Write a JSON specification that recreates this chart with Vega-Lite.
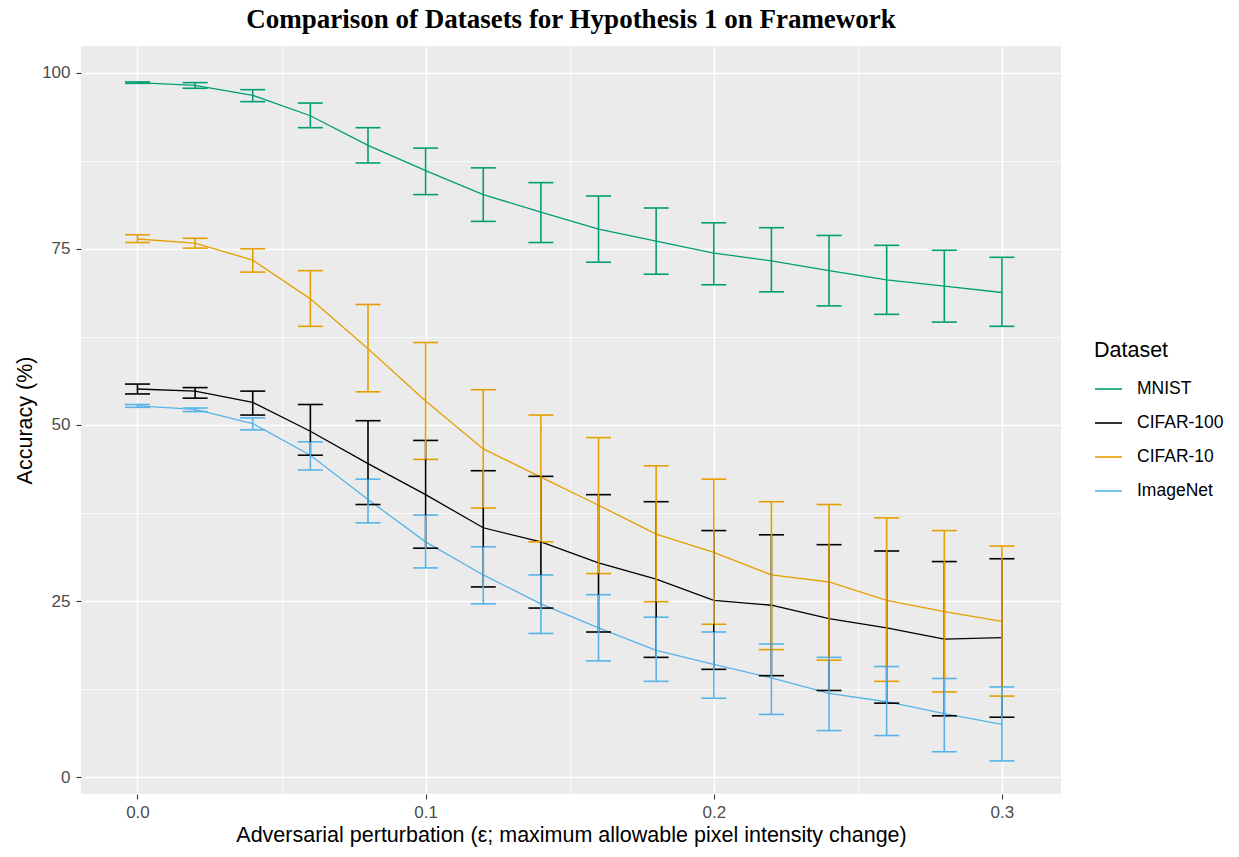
{
  "$schema": "https://vega.github.io/schema/vega-lite/v6.json",
  "width": 980,
  "height": 748,
  "autosize": {"type": "none"},
  "padding": {"left": 81, "top": 46, "right": 178, "bottom": 63},
  "background": "white",
  "title": {
    "text": "Comparison of Datasets for Hypothesis 1 on Framework",
    "font": "Liberation Serif",
    "fontSize": 27,
    "fontWeight": "bold",
    "color": "black",
    "anchor": "middle",
    "frame": "group",
    "offset": 12
  },
  "config": {
    "view": {"fill": "#EBEBEB", "stroke": null},
    "axis": {
      "domain": false,
      "gridColor": "white",
      "tickColor": "#333333",
      "tickSize": 5,
      "tickWidth": 1.1,
      "labelColor": "#4D4D4D",
      "labelFont": "Liberation Sans",
      "labelFontSize": 17,
      "labelPadding": 5,
      "titleFont": "Liberation Sans",
      "titleFontSize": 21.5,
      "titleFontWeight": "normal",
      "titleColor": "black"
    },
    "legend": {
      "titleFont": "Liberation Sans",
      "titleFontSize": 21.5,
      "titleFontWeight": "normal",
      "titleColor": "black",
      "labelFont": "Liberation Sans",
      "labelFontSize": 17.5,
      "labelColor": "black"
    }
  },
  "data": {
    "values": [
      {"dataset": "MNIST", "eps": 0.00, "acc": 98.6, "lo": 98.5, "hi": 98.7},
      {"dataset": "MNIST", "eps": 0.02, "acc": 98.2, "lo": 97.8, "hi": 98.6},
      {"dataset": "MNIST", "eps": 0.04, "acc": 96.8, "lo": 95.9, "hi": 97.6},
      {"dataset": "MNIST", "eps": 0.06, "acc": 93.9, "lo": 92.2, "hi": 95.7},
      {"dataset": "MNIST", "eps": 0.08, "acc": 89.7, "lo": 87.2, "hi": 92.2},
      {"dataset": "MNIST", "eps": 0.10, "acc": 86.1, "lo": 82.7, "hi": 89.3},
      {"dataset": "MNIST", "eps": 0.12, "acc": 82.7, "lo": 78.9, "hi": 86.5},
      {"dataset": "MNIST", "eps": 0.14, "acc": 80.2, "lo": 75.9, "hi": 84.4},
      {"dataset": "MNIST", "eps": 0.16, "acc": 77.8, "lo": 73.1, "hi": 82.5},
      {"dataset": "MNIST", "eps": 0.18, "acc": 76.1, "lo": 71.4, "hi": 80.8},
      {"dataset": "MNIST", "eps": 0.20, "acc": 74.4, "lo": 69.9, "hi": 78.7},
      {"dataset": "MNIST", "eps": 0.22, "acc": 73.3, "lo": 68.9, "hi": 78.0},
      {"dataset": "MNIST", "eps": 0.24, "acc": 71.9, "lo": 66.9, "hi": 76.9},
      {"dataset": "MNIST", "eps": 0.26, "acc": 70.6, "lo": 65.7, "hi": 75.5},
      {"dataset": "MNIST", "eps": 0.28, "acc": 69.7, "lo": 64.6, "hi": 74.8},
      {"dataset": "MNIST", "eps": 0.30, "acc": 68.8, "lo": 64.0, "hi": 73.8},
      {"dataset": "CIFAR-100", "eps": 0.00, "acc": 55.1, "lo": 54.4, "hi": 55.8},
      {"dataset": "CIFAR-100", "eps": 0.02, "acc": 54.8, "lo": 53.8, "hi": 55.3},
      {"dataset": "CIFAR-100", "eps": 0.04, "acc": 53.2, "lo": 51.4, "hi": 54.8},
      {"dataset": "CIFAR-100", "eps": 0.06, "acc": 49.1, "lo": 45.7, "hi": 52.9},
      {"dataset": "CIFAR-100", "eps": 0.08, "acc": 44.5, "lo": 38.7, "hi": 50.6},
      {"dataset": "CIFAR-100", "eps": 0.10, "acc": 40.1, "lo": 32.5, "hi": 47.8},
      {"dataset": "CIFAR-100", "eps": 0.12, "acc": 35.4, "lo": 27.0, "hi": 43.5},
      {"dataset": "CIFAR-100", "eps": 0.14, "acc": 33.4, "lo": 24.0, "hi": 42.7},
      {"dataset": "CIFAR-100", "eps": 0.16, "acc": 30.4, "lo": 20.6, "hi": 40.1},
      {"dataset": "CIFAR-100", "eps": 0.18, "acc": 28.1, "lo": 17.0, "hi": 39.1},
      {"dataset": "CIFAR-100", "eps": 0.20, "acc": 25.1, "lo": 15.3, "hi": 35.0},
      {"dataset": "CIFAR-100", "eps": 0.22, "acc": 24.4, "lo": 14.4, "hi": 34.4},
      {"dataset": "CIFAR-100", "eps": 0.24, "acc": 22.5, "lo": 12.3, "hi": 33.0},
      {"dataset": "CIFAR-100", "eps": 0.26, "acc": 21.2, "lo": 10.5, "hi": 32.1},
      {"dataset": "CIFAR-100", "eps": 0.28, "acc": 19.6, "lo": 8.7, "hi": 30.6},
      {"dataset": "CIFAR-100", "eps": 0.30, "acc": 19.8, "lo": 8.5, "hi": 31.0},
      {"dataset": "CIFAR-10", "eps": 0.00, "acc": 76.4, "lo": 75.9, "hi": 77.0},
      {"dataset": "CIFAR-10", "eps": 0.02, "acc": 75.8, "lo": 75.1, "hi": 76.5},
      {"dataset": "CIFAR-10", "eps": 0.04, "acc": 73.4, "lo": 71.7, "hi": 75.0},
      {"dataset": "CIFAR-10", "eps": 0.06, "acc": 67.9, "lo": 64.0, "hi": 71.9},
      {"dataset": "CIFAR-10", "eps": 0.08, "acc": 60.8, "lo": 54.7, "hi": 67.1},
      {"dataset": "CIFAR-10", "eps": 0.10, "acc": 53.4, "lo": 45.1, "hi": 61.7},
      {"dataset": "CIFAR-10", "eps": 0.12, "acc": 46.6, "lo": 38.2, "hi": 55.0},
      {"dataset": "CIFAR-10", "eps": 0.14, "acc": 42.6, "lo": 33.4, "hi": 51.4},
      {"dataset": "CIFAR-10", "eps": 0.16, "acc": 38.6, "lo": 28.9, "hi": 48.2},
      {"dataset": "CIFAR-10", "eps": 0.18, "acc": 34.5, "lo": 24.9, "hi": 44.2},
      {"dataset": "CIFAR-10", "eps": 0.20, "acc": 31.9, "lo": 21.7, "hi": 42.3},
      {"dataset": "CIFAR-10", "eps": 0.22, "acc": 28.7, "lo": 18.1, "hi": 39.1},
      {"dataset": "CIFAR-10", "eps": 0.24, "acc": 27.7, "lo": 16.6, "hi": 38.7},
      {"dataset": "CIFAR-10", "eps": 0.26, "acc": 25.1, "lo": 13.6, "hi": 36.8},
      {"dataset": "CIFAR-10", "eps": 0.28, "acc": 23.5, "lo": 12.1, "hi": 35.0},
      {"dataset": "CIFAR-10", "eps": 0.30, "acc": 22.1, "lo": 11.5, "hi": 32.8},
      {"dataset": "ImageNet", "eps": 0.00, "acc": 52.7, "lo": 52.5, "hi": 52.9},
      {"dataset": "ImageNet", "eps": 0.02, "acc": 52.2, "lo": 51.9, "hi": 52.4},
      {"dataset": "ImageNet", "eps": 0.04, "acc": 50.2, "lo": 49.3, "hi": 51.0},
      {"dataset": "ImageNet", "eps": 0.06, "acc": 45.7, "lo": 43.6, "hi": 47.6},
      {"dataset": "ImageNet", "eps": 0.08, "acc": 39.4, "lo": 36.1, "hi": 42.3},
      {"dataset": "ImageNet", "eps": 0.10, "acc": 33.4, "lo": 29.7, "hi": 37.2},
      {"dataset": "ImageNet", "eps": 0.12, "acc": 28.7, "lo": 24.6, "hi": 32.7},
      {"dataset": "ImageNet", "eps": 0.14, "acc": 24.6, "lo": 20.4, "hi": 28.7},
      {"dataset": "ImageNet", "eps": 0.16, "acc": 21.2, "lo": 16.5, "hi": 25.9},
      {"dataset": "ImageNet", "eps": 0.18, "acc": 18.0, "lo": 13.6, "hi": 22.7},
      {"dataset": "ImageNet", "eps": 0.20, "acc": 16.0, "lo": 11.2, "hi": 20.6},
      {"dataset": "ImageNet", "eps": 0.22, "acc": 14.1, "lo": 8.9, "hi": 18.9},
      {"dataset": "ImageNet", "eps": 0.24, "acc": 11.9, "lo": 6.6, "hi": 17.0},
      {"dataset": "ImageNet", "eps": 0.26, "acc": 10.7, "lo": 5.9, "hi": 15.7},
      {"dataset": "ImageNet", "eps": 0.28, "acc": 9.0, "lo": 3.6, "hi": 14.0},
      {"dataset": "ImageNet", "eps": 0.30, "acc": 7.5, "lo": 2.3, "hi": 12.8}
    ]
  },
  "encoding": {
    "x": {
      "field": "eps",
      "type": "quantitative",
      "title": "Adversarial perturbation (ε; maximum allowable pixel intensity change)",
      "scale": {"domain": [-0.0196, 0.3205], "nice": false, "zero": false},
      "axis": {
        "values": [0, 0.05, 0.1, 0.15, 0.2, 0.25, 0.3],
        "labelExpr": "round(datum.value * 100) % 10 === 0 ? format(datum.value, '.1f') : ''",
        "gridWidth": {"condition": {"test": "round(datum.value * 100) % 10 === 0", "value": 1.4}, "value": 0.7},
        "tickOpacity": {"condition": {"test": "round(datum.value * 100) % 10 === 0", "value": 1}, "value": 0},
        "titlePadding": 4
      }
    },
    "color": {
      "field": "dataset",
      "type": "nominal",
      "title": "Dataset",
      "scale": {
        "domain": ["MNIST", "CIFAR-100", "CIFAR-10", "ImageNet"],
        "range": ["#009E73", "#000000", "#E69F00", "#56B4E9"]
      },
      "legend": {
        "orient": "none",
        "legendX": 1013,
        "legendY": 294,
        "symbolType": "stroke",
        "symbolSize": 729,
        "symbolStrokeWidth": 1.6,
        "rowPadding": 11,
        "labelOffset": 14,
        "titlePadding": 13
      }
    }
  },
  "layer": [
    {
      "mark": {"type": "line", "strokeWidth": 1.3},
      "encoding": {
        "y": {
          "field": "acc",
          "type": "quantitative",
          "title": "Accuracy (%)",
          "scale": {"domain": [-2.4, 103.8], "nice": false, "zero": false},
          "axis": {
            "values": [0, 12.5, 25, 37.5, 50, 62.5, 75, 87.5, 100],
            "labelExpr": "datum.value % 25 === 0 ? format(datum.value, 'd') : ''",
            "gridWidth": {"condition": {"test": "datum.value % 25 === 0", "value": 1.4}, "value": 0.7},
            "tickOpacity": {"condition": {"test": "datum.value % 25 === 0", "value": 1}, "value": 0},
            "labelPadding": 6,
            "titlePadding": 5
          }
        }
      }
    },
    {
      "mark": {"type": "errorbar", "ticks": {"size": 25, "opacity": 1}, "rule": {"opacity": 1}, "thickness": 1.6},
      "encoding": {
        "y": {"field": "lo", "type": "quantitative", "title": "Accuracy (%)"},
        "y2": {"field": "hi"}
      }
    }
  ]
}
